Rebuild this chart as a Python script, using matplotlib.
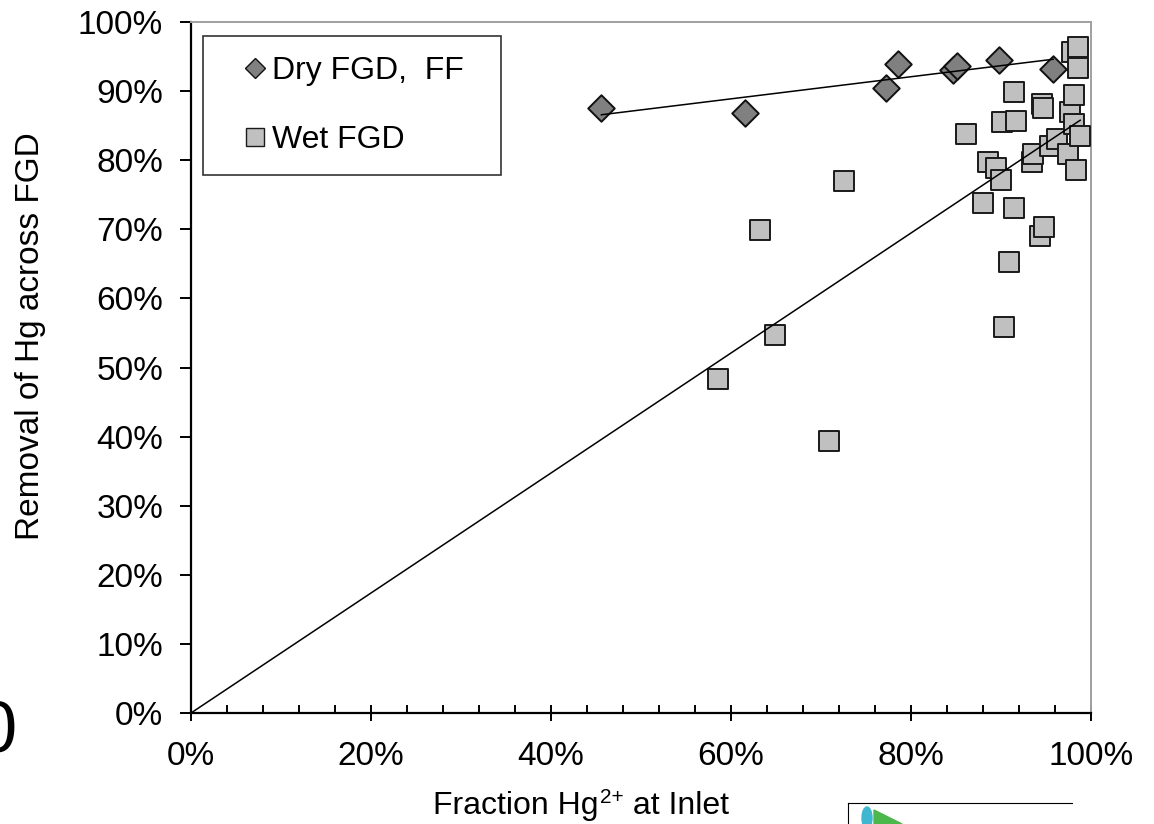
import numpy as np
import matplotlib
matplotlib.use("Agg")
import matplotlib.pyplot as plt
from matplotlib.lines import Line2D
from matplotlib.ticker import PercentFormatter, MultipleLocator
from matplotlib.patches import Ellipse, Polygon

plt.rcParams['font.family'] = ['Liberation Sans', 'DejaVu Sans']

# ---- data (percent) ----
dry_x = [45.6, 61.5, 77.2, 78.5, 84.7, 85.1, 89.8, 95.8]
dry_y = [87.5, 86.9, 90.5, 93.9, 93.05, 93.6, 94.5, 93.2]

wet_x = [58.5, 63.2, 64.9, 70.9, 72.6, 86.1, 88.0, 88.6, 89.4, 90.0, 90.1,
         90.3, 90.9, 91.4, 91.4, 91.7, 93.4, 93.6, 94.3, 94.8, 94.6, 94.7,
         95.4, 96.2, 97.4, 97.7, 97.9, 98.1, 98.1, 98.3, 98.5, 98.5, 98.8]
wet_y = [48.4, 69.9, 54.7, 39.3, 77.0, 83.8, 73.8, 79.7, 78.8, 77.2, 85.6,
         55.9, 65.3, 73.1, 89.8, 85.7, 79.7, 80.9, 69.0, 70.4, 88.1, 87.6,
         82.1, 83.1, 80.85, 87.0, 95.7, 89.4, 85.2, 78.6, 96.4, 93.3, 83.5]

legend_labels = ["Dry FGD,  FF", "Wet FGD"]
x_label_parts = ["Fraction Hg", "2+", " at Inlet"]
y_label = "Removal of Hg across FGD"

W, H = 1154, 824
fig = plt.figure(figsize=(W / 100, H / 100), dpi=100)
ax = fig.add_axes([191 / W, (H - 713) / H, 900 / W, 691 / H])

dx = np.array(dry_x); dy = np.array(dry_y)
wx = np.array(wet_x); wy = np.array(wet_y)

ax.scatter(wx, wy, marker='s', s=14.0 ** 2, facecolor='#c0c0c0',
           edgecolor='#1a1a1a', linewidth=1.4, zorder=3)
ax.scatter(dx, dy, marker='D', s=13.5 ** 2, facecolor='#808080',
           edgecolor='#111111', linewidth=1.4, zorder=4)

# trendlines: dry = OLS, wet = through origin
p = np.polyfit(dx, dy, 1)
xs = np.array([dx.min(), dx.max()])
ax.plot(xs, np.polyval(p, xs), color='black', lw=1.1, zorder=5)
slope = np.sum(wx * wy) / np.sum(wx * wx)
xw = np.array([0.0, wx.max()])
ax.plot(xw, slope * xw, color='black', lw=1.1, zorder=5)

ax.set_xlim(0, 100)
ax.set_ylim(0, 100)
ax.xaxis.set_major_locator(MultipleLocator(20))
ax.xaxis.set_minor_locator(MultipleLocator(4))
ax.yaxis.set_major_locator(MultipleLocator(10))
ax.xaxis.set_major_formatter(PercentFormatter(decimals=0))
ax.yaxis.set_major_formatter(PercentFormatter(decimals=0))

ax.tick_params(axis='x', which='major', direction='inout', length=12,
               width=1.4, labelsize=24, pad=14)
ax.tick_params(axis='x', which='minor', direction='in', length=6, width=1.4)
ax.tick_params(axis='y', which='major', direction='out', length=8,
               width=1.4, labelsize=24, pad=12)

for s in ['left', 'bottom']:
    ax.spines[s].set_color('black')
    ax.spines[s].set_linewidth(1.6)
for s in ['top', 'right']:
    ax.spines[s].set_color('#a0a0a0')
    ax.spines[s].set_linewidth(1.4)

handles = [
    Line2D([], [], linestyle='none', marker='D', markersize=10,
           markerfacecolor='#808080', markeredgecolor='#111111', markeredgewidth=1.0),
    Line2D([], [], linestyle='none', marker='s', markersize=13,
           markerfacecolor='#c0c0c0', markeredgecolor='#1a1a1a', markeredgewidth=1.0),
]
leg = ax.legend(handles, legend_labels, loc='upper left',
                bbox_to_anchor=((203 - 191) / 900, (713 - 36) / 691,
                                (501 - 203) / 900, 0.0),
                mode='expand', fontsize=23, frameon=True, fancybox=False,
                borderpad=0.62, labelspacing=1.22, handlelength=2.0,
                handletextpad=-0.45, borderaxespad=0.0, numpoints=1)
leg.get_frame().set_edgecolor('black')
leg.get_frame().set_linewidth(1.2)

# x label assembled with a real superscript; "Hg" begins near x=558 px
renderer = fig.canvas.get_renderer()
xl_base = (H - 814) / H
probe = fig.text(0, 0, "Fraction ", fontsize=23)
wpre = probe.get_window_extent(renderer).width
probe.remove()
t1 = fig.text((558 - wpre) / W, xl_base, x_label_parts[0], fontsize=23,
              ha='left', va='baseline')
bb1 = t1.get_window_extent(renderer)
t2 = fig.text((bb1.x1 + 1) / W, xl_base + 11 / H, x_label_parts[1], fontsize=15,
              ha='left', va='baseline')
bb2 = t2.get_window_extent(renderer)
t3 = fig.text(bb2.x1 / W, xl_base, x_label_parts[2], fontsize=23,
              ha='left', va='baseline')

fig.text(31 / W, (H - 336) / H, y_label, fontsize=24, ha='center',
         va='center', rotation=90)

# cropped glyph at left edge (as in the reference)
fig.text(16 / W, (H - 733) / H, "0", fontsize=52, ha='right', va='center')

# cropped logo at bottom right
fig.add_artist(Line2D([848 / W, 1072 / W], [(H - 803) / H, (H - 803) / H],
                      transform=fig.transFigure, color='black', lw=0.8))
fig.add_artist(Line2D([848 / W, 848 / W], [(H - 803) / H, 0],
                      transform=fig.transFigure, color='black', lw=0.8))
fig.add_artist(Ellipse((867 / W, (H - 818) / H), 10 / W, 22 / H,
                       transform=fig.transFigure, color='#3fb7d0'))
fig.add_artist(Polygon([[874 / W, (H - 810) / H], [902 / W, (H - 824) / H],
                        [874 / W, 0]], closed=True, transform=fig.transFigure,
                       color='#4cb84c'))

fig.savefig("out.png", dpi=100)
